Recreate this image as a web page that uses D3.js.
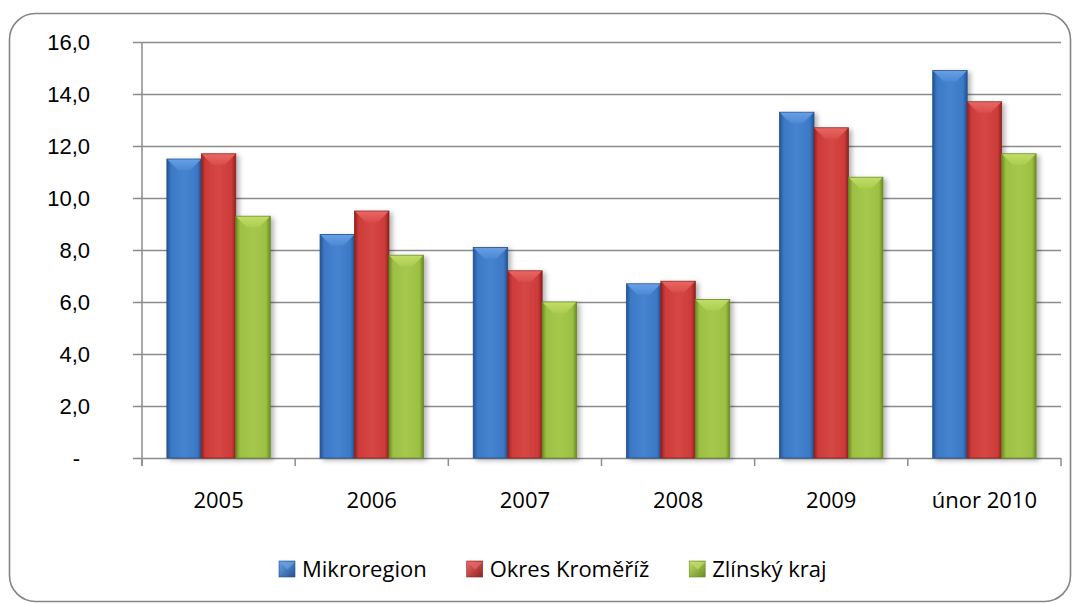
<!DOCTYPE html>
<html>
<head>
<meta charset="utf-8">
<script src="https://cdn.jsdelivr.net/npm/d3@7"></script>
<style>
  body { margin: 0; background: #fff; }
  svg { display: block; font-family: "Open Sans", "DejaVu Sans", sans-serif; }
</style>
</head>
<body>
<svg id="chart" width="1079" height="604"></svg>
<script>
// data
var categories = ['2005', '2006', '2007', '2008', '2009', 'únor 2010'];
var seriesNames = ['Mikroregion', 'Okres Kroměříž', 'Zlínský kraj'];
var mikroregion = [11.5, 8.6, 8.1, 6.7, 13.3, 14.9];
var okres = [11.7, 9.5, 7.2, 6.8, 12.7, 13.7];
var zlinsky = [9.3, 7.8, 6.0, 6.1, 10.8, 11.7];
var yTicks = [0, 2, 4, 6, 8, 10, 12, 14, 16];

var seriesValues = [mikroregion, okres, zlinsky];
// base, light, dark
var colors = [
  { base: '#3b78c6', light: '#6aa3e8', dark: '#24528e' },
  { base: '#cd3b39', light: '#ec6a66', dark: '#8e2220' },
  { base: '#9cc043', light: '#c4e06a', dark: '#6a8a24' }
];

var svg = d3.select('#chart');
var defs = svg.append('defs');

// gradients for bars
colors.forEach(function(c, i) {
  var g = defs.append('linearGradient').attr('id', 'body' + i)
    .attr('x1', 0).attr('x2', 1).attr('y1', 0).attr('y2', 0);
  g.append('stop').attr('offset', '0%').attr('stop-color', c.dark);
  g.append('stop').attr('offset', '12%').attr('stop-color', c.base);
  g.append('stop').attr('offset', '50%').attr('stop-color', d3.interpolateRgb(c.base, c.light)(0.25));
  g.append('stop').attr('offset', '88%').attr('stop-color', c.base);
  g.append('stop').attr('offset', '100%').attr('stop-color', c.dark);

  var t = defs.append('linearGradient').attr('id', 'top' + i)
    .attr('x1', 0).attr('x2', 0).attr('y1', 0).attr('y2', 1);
  t.append('stop').attr('offset', '0%').attr('stop-color', c.light);
  t.append('stop').attr('offset', '100%').attr('stop-color', d3.interpolateRgb(c.base, c.light)(0.4));

  var lg = defs.append('linearGradient').attr('id', 'leg' + i)
    .attr('x1', 0).attr('x2', 1).attr('y1', 0).attr('y2', 1);
  lg.append('stop').attr('offset', '0%').attr('stop-color', c.light);
  lg.append('stop').attr('offset', '100%').attr('stop-color', c.dark);
});

var shadow = defs.append('filter').attr('id', 'shadow')
  .attr('x', '-20%').attr('y', '-10%').attr('width', '160%').attr('height', '130%');
shadow.append('feDropShadow').attr('dx', 3).attr('dy', 2).attr('stdDeviation', 2.5)
  .attr('flood-color', '#000').attr('flood-opacity', 0.3);

// outer border
svg.append('rect')
  .attr('x', 9.5).attr('y', 13.5).attr('width', 1061).attr('height', 588)
  .attr('rx', 26).attr('ry', 26)
  .attr('fill', '#fff').attr('stroke', '#858585').attr('stroke-width', 1.6);

// scales
var plotLeft = 142, plotRight = 1061, plotTop = 42, plotBottom = 458;

var x0 = d3.scaleBand()
  .domain(categories)
  .range([plotLeft, plotRight])
  .paddingInner(0.325)
  .paddingOuter(0.1625);

var x1 = d3.scaleBand()
  .domain(d3.range(seriesNames.length))
  .range([0, x0.bandwidth()]);

var y = d3.scaleLinear().domain([0, 16]).range([plotBottom, plotTop]);

function fmt(v) {
  return v === 0 ? '-' : d3.format('.1f')(v).replace('.', ',');
}

// gridlines + y axis
var yAxis = d3.axisLeft(y)
  .tickValues(yTicks)
  .tickSize(9)
  .tickFormat(fmt);

var yg = svg.append('g').attr('transform', 'translate(' + plotLeft + ',0)').call(yAxis);
yg.select('.domain').remove();
yg.selectAll('.tick line').attr('stroke', '#8c8c8c').attr('stroke-width', 1.5)
  .attr('x1', plotRight - plotLeft);
yg.selectAll('.tick text')
  .attr('x', function(d) { return d === 0 ? -62 : -52; })
  .attr('dy', '0.36em')
  .style('font-size', '22px').attr('fill', '#000');

// vertical axis line
svg.append('line')
  .attr('x1', plotLeft).attr('x2', plotLeft).attr('y1', plotTop).attr('y2', plotBottom + 8)
  .attr('stroke', '#8c8c8c').attr('stroke-width', 1.5);

// x ticks at category boundaries
svg.append('g').selectAll('line')
  .data(d3.range(categories.length + 1))
  .enter()
  .append('line')
  .attr('x1', function(i) { return plotLeft + i * x0.step(); })
  .attr('x2', function(i) { return plotLeft + i * x0.step(); })
  .attr('y1', plotBottom)
  .attr('y2', plotBottom + 8)
  .attr('stroke', '#8c8c8c').attr('stroke-width', 1.5);

// x labels
svg.append('g').selectAll('text')
  .data(categories)
  .enter()
  .append('text')
  .attr('x', function(d) { return x0(d) + x0.bandwidth() / 2; })
  .attr('y', 508)
  .attr('text-anchor', 'middle')
  .style('font-size', '22px')
  .text(function(d) { return d; });

// bars
var rows = [];
categories.forEach(function(cat, ci) {
  seriesValues.forEach(function(vals, si) {
    rows.push({ cat: cat, s: si, v: vals[ci] });
  });
});

var bars = svg.append('g').selectAll('g.bar')
  .data(rows)
  .enter()
  .append('g')
  .attr('class', 'bar')
  .attr('filter', 'url(#shadow)');

bars.append('rect')
  .attr('x', function(d) { return x0(d.cat) + x1(d.s); })
  .attr('y', function(d) { return y(d.v); })
  .attr('width', x1.bandwidth())
  .attr('height', function(d) { return y(0) - y(d.v); })
  .attr('fill', function(d) { return 'url(#body' + d.s + ')'; })
  .attr('stroke', function(d) { return colors[d.s].dark; })
  .attr('stroke-width', 0.8);

// top bevel
bars.append('polygon')
  .attr('points', function(d) {
    var xa = x0(d.cat) + x1(d.s), xb = xa + x1.bandwidth(), yt = y(d.v), b = 11;
    return [[xa + 0.5, yt + 0.5], [xb - 0.5, yt + 0.5], [xb - b, yt + b], [xa + b, yt + b]].join(' ');
  })
  .attr('fill', function(d) { return 'url(#top' + d.s + ')'; })
  .attr('opacity', 0.9);

// legend
var legend = svg.append('g').attr('transform', 'translate(279,560)');
var lx = 0;
seriesNames.forEach(function(name, i) {
  var item = legend.append('g').attr('transform', 'translate(' + lx + ',0)');
  item.append('rect').attr('x', 0).attr('y', 1).attr('width', 16).attr('height', 16)
    .attr('fill', 'url(#leg' + i + ')').attr('stroke', colors[i].dark).attr('stroke-width', 0.6);
  item.append('polygon')
    .attr('points', '1,2 16,2 8.5,9.5')
    .attr('fill', colors[i].light).attr('opacity', 0.7);
  var t = item.append('text').attr('x', 23).attr('y', 17)
    .style('font-size', '22px').text(name);
  lx += 23 + t.node().getComputedTextLength() + 40;
});
</script>
</body>
</html>
